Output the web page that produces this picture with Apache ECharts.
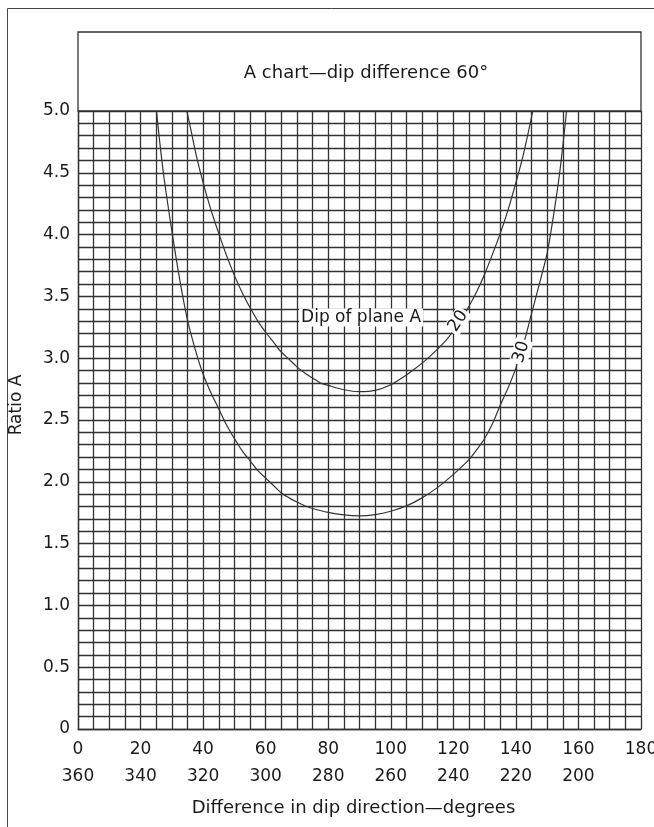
<!DOCTYPE html>
<html>
<head>
<meta charset="utf-8">
<script src="https://cdn.jsdelivr.net/npm/echarts@6/dist/echarts.min.js"></script>
<style>
  html, body { margin: 0; padding: 0; background: #fff; }
  #chart { width: 654px; height: 827px; }
</style>
</head>
<body>
<div id="chart"></div>
<script>
// ---- data ----
const chartTitle = 'A chart\u2014dip difference 60\u00b0';
const xAxisTitle = 'Difference in dip direction\u2014degrees';
const yAxisTitle = 'Ratio A';

const xTickTop = [0, 20, 40, 60, 80, 100, 120, 140, 160, 180];
const xTickBottom = ['360', '340', '320', '300', '280', '260', '240', '220', '200', ''];
const yTicks = [0, 0.5, 1.0, 1.5, 2.0, 2.5, 3.0, 3.5, 4.0, 4.5, 5.0];

// Dip of plane A = 20
const dip20 = [
  [34.8, 5.0], [36, 4.86], [38, 4.62], [40, 4.42], [42.5, 4.20], [45, 4.01],
  [47.5, 3.83], [50, 3.67], [52.5, 3.53], [55, 3.41], [57.5, 3.30], [60, 3.21],
  [62.5, 3.13], [65, 3.05], [67.5, 2.99], [70, 2.93], [72.5, 2.88], [75, 2.84],
  [77.5, 2.80], [80, 2.78], [85, 2.745], [90, 2.73], [95, 2.74], [100, 2.785],
  [105, 2.865], [107.5, 2.91], [110, 2.96], [112.5, 3.015], [115, 3.075],
  [117.5, 3.14], [120, 3.22], [122.5, 3.31], [125, 3.42], [127.5, 3.54],
  [130, 3.68], [132.5, 3.84], [135, 4.01], [137.5, 4.20], [140, 4.42],
  [142.5, 4.66], [145.4, 5.0]
];
// Dip of plane A = 30
const dip30 = [
  [25.1, 5.0], [26, 4.78], [27.5, 4.46], [30, 4.03], [32.5, 3.64], [35, 3.31],
  [37.5, 3.07], [40, 2.87], [42.5, 2.72], [45, 2.59], [47.5, 2.46], [50, 2.35],
  [52.5, 2.25], [55, 2.17], [57.5, 2.09], [60, 2.03], [62.5, 1.97], [65, 1.91],
  [67.5, 1.87], [70, 1.836], [72.5, 1.806], [75, 1.784], [80, 1.752], [85, 1.732],
  [90, 1.725], [95, 1.735], [100, 1.762], [105, 1.805], [110, 1.87], [115, 1.955],
  [120, 2.06], [125, 2.18], [127.5, 2.26], [130, 2.35], [132.5, 2.47], [135, 2.62],
  [137.5, 2.76], [140, 2.92], [142.5, 3.12], [145, 3.36], [147.5, 3.60],
  [150, 3.85], [152, 4.15], [154, 4.50], [156.2, 5.0]
];

// annotation anchors (data coordinates) and texts
const annotationTexts = ['Dip of plane A', '20', '30'];
const annotationPoints = [[90.5, 3.33], [121.5, 3.30], [141.7, 3.05]];
const annotationAngles = [0, 56, 73];

// ---- chart ----
const gridColor = '#333';
const textColor = '#1a1a1a';
const fontFamily = '"DejaVu Sans", "Liberation Sans", Arial, sans-serif';
const fs = 17;
const fsTitle = 18;

const chart = echarts.init(document.getElementById('chart'), null, { renderer: 'canvas' });

chart.setOption({
  animation: false,
  backgroundColor: '#fff',
  textStyle: { fontFamily: fontFamily },
  grid: { left: 78, right: 13, top: 111, bottom: 98, containLabel: false, outerBoundsMode: 'none' },
  graphic: [
    { type: 'rect', z: -1, shape: { x: 7.5, y: 8.5, width: 800, height: 900 },
      style: { fill: 'none', stroke: '#444', lineWidth: 1 } },
    { type: 'rect', shape: { x: 78, y: 32, width: 563, height: 79 },
      style: { fill: '#fff', stroke: gridColor, lineWidth: 1.3 } },
    { type: 'text', x: 366, y: 73,
      style: { text: chartTitle, fill: textColor, font: fsTitle + 'px ' + fontFamily,
               textAlign: 'center', textVerticalAlign: 'middle' } },
    { type: 'text', x: 17, y: 405, rotation: Math.PI / 2,
      style: { text: yAxisTitle, fill: textColor, font: fs + 'px ' + fontFamily,
               textAlign: 'center', textVerticalAlign: 'middle' } }
  ],
  xAxis: {
    type: 'value', min: 0, max: 180, interval: 20,
    name: xAxisTitle, nameLocation: 'middle', nameGap: 70,
    nameTextStyle: { color: textColor, fontSize: fsTitle, padding: [0, 12, 0, 0] },
    axisLine: { show: true, lineStyle: { color: gridColor, width: 1.3 } },
    axisTick: { show: false },
    axisLabel: {
      color: textColor, fontSize: fs, margin: 7, lineHeight: 27,
      formatter: function (v) {
        const i = xTickTop.indexOf(v);
        return i < 0 ? '' : xTickTop[i] + '\n' + xTickBottom[i];
      }
    },
    splitLine: { show: true, lineStyle: { color: gridColor, width: 1.3 } },
    minorTick: { show: false, splitNumber: 4 },
    minorSplitLine: { show: true, lineStyle: { color: gridColor, width: 1.3 } }
  },
  yAxis: {
    type: 'value', min: 0, max: 5, interval: 0.5,
    axisLine: { show: true, lineStyle: { color: gridColor, width: 1.3 } },
    axisTick: { show: false },
    axisLabel: {
      color: textColor, fontSize: fs, margin: 8,
      formatter: function (v) {
        const t = yTicks.find(function (y) { return Math.abs(y - v) < 1e-6; });
        if (t === undefined) return '';
        return t === 0 ? '0' : t.toFixed(1);
      }
    },
    splitLine: { show: true, lineStyle: { color: gridColor, width: 1.3 } },
    minorTick: { show: false, splitNumber: 5 },
    minorSplitLine: { show: true, lineStyle: { color: gridColor, width: 1.3 } }
  },
  series: [
    { name: '20', type: 'line', data: dip20, smooth: 0.3, showSymbol: false, z: 3,
      lineStyle: { color: '#333', width: 1.2 } },
    { name: '30', type: 'line', data: dip30, smooth: 0.3, showSymbol: false, z: 3,
      lineStyle: { color: '#333', width: 1.2 } },
    { name: 'annotations', type: 'scatter', symbolSize: 0, z: 5, silent: true,
      itemStyle: { color: '#fff', opacity: 1 },
      data: annotationPoints.map(function (p, i) {
        return {
          value: p,
          label: {
            show: true, position: 'inside', formatter: annotationTexts[i],
            rotate: annotationAngles[i], color: textColor, fontSize: fs,
            textBorderWidth: 0, textBorderColor: 'transparent',
            backgroundColor: '#fff', padding: [1, 2, 0, 2]
          }
        };
      })
    }
  ]
});
</script>
</body>
</html>
